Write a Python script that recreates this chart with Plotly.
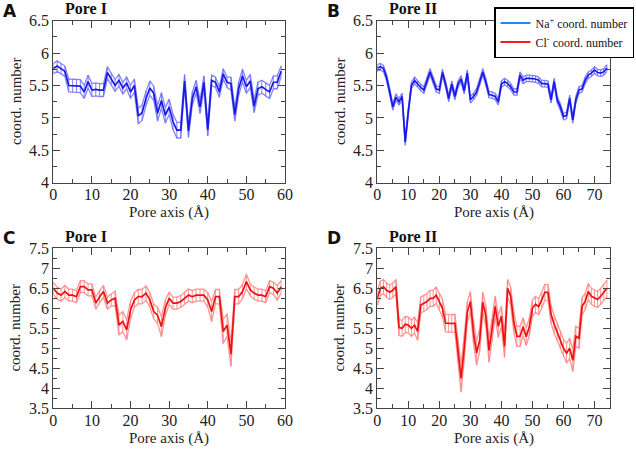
import numpy as np
import plotly.graph_objects as go

# ---------------- data ----------------
A_x = list(range(0, 60))
A_mean = [5.76, 5.80, 5.76, 5.72, 5.50, 5.50, 5.50, 5.49, 5.40, 5.56,
          5.43, 5.44, 5.43, 5.43, 5.70, 5.60, 5.50, 5.58, 5.46, 5.54,
          5.40, 5.50, 5.03, 5.08, 5.30, 5.46, 5.38, 5.07, 5.27, 5.04,
          5.17, 4.94, 4.81, 4.81, 5.57, 4.80, 5.30, 5.48, 5.17, 5.55,
          4.82, 5.58, 5.55, 5.40, 5.68, 5.55, 5.53, 5.05, 5.45, 5.65,
          5.48, 5.57, 5.18, 5.45, 5.48, 5.44, 5.40, 5.55, 5.55, 5.72]
A_err = [0.08, 0.08, 0.08, 0.08, 0.10, 0.10, 0.10, 0.10, 0.10, 0.10,
         0.10, 0.10, 0.10, 0.10, 0.09, 0.09, 0.09, 0.09, 0.09, 0.09,
         0.10, 0.10, 0.12, 0.12, 0.11, 0.11, 0.11, 0.12, 0.12, 0.12,
         0.12, 0.12, 0.12, 0.12, 0.10, 0.10, 0.10, 0.10, 0.10, 0.10,
         0.10, 0.08, 0.08, 0.08, 0.08, 0.08, 0.10, 0.10, 0.10, 0.10,
         0.10, 0.10, 0.10, 0.10, 0.10, 0.10, 0.10, 0.10, 0.10, 0.08]

B_x = list(range(0, 75))
B_mean = [5.77, 5.79, 5.76, 5.62, 5.40, 5.17, 5.32, 5.25, 5.33, 4.63,
          5.10, 5.50, 5.58, 5.52, 5.47, 5.43, 5.58, 5.71, 5.58, 5.45,
          5.43, 5.70, 5.52, 5.30, 5.52, 5.33, 5.52, 5.60, 5.42, 5.69,
          5.28, 5.33, 5.40, 5.55, 5.71, 5.55, 5.36, 5.35, 5.33, 5.25,
          5.52, 5.56, 5.53, 5.48, 5.40, 5.40, 5.66, 5.58, 5.61, 5.61,
          5.61, 5.60, 5.58, 5.53, 5.53, 5.52, 5.28, 5.56, 5.28, 5.17,
          5.02, 5.04, 5.30, 4.97, 5.28, 5.43, 5.45, 5.58, 5.66, 5.69,
          5.74, 5.70, 5.69, 5.71, 5.77]
B_err = [0.05] * 75

C_x = list(range(0, 60))
C_mean = [6.50, 6.38, 6.33, 6.42, 6.33, 6.33, 6.29, 6.54, 6.54, 6.46,
          6.46, 6.13, 6.29, 6.42, 6.13, 6.21, 6.25, 5.58, 5.67, 5.46,
          5.96, 6.21, 6.29, 6.29, 6.38, 6.21, 5.92, 5.83, 5.54, 6.00,
          6.25, 6.13, 6.13, 6.17, 6.25, 6.33, 6.29, 6.33, 6.33, 6.33,
          6.21, 5.92, 6.29, 6.29, 5.42, 5.58, 4.85, 6.29, 6.29, 6.42,
          6.67, 6.46, 6.38, 6.33, 6.33, 6.29, 6.54, 6.50, 6.38, 6.54]
C_err = [0.15, 0.15, 0.15, 0.15, 0.15, 0.15, 0.15, 0.15, 0.15, 0.15,
         0.15, 0.15, 0.15, 0.15, 0.15, 0.15, 0.18, 0.25, 0.25, 0.25,
         0.22, 0.18, 0.18, 0.18, 0.18, 0.18, 0.18, 0.20, 0.25, 0.20,
         0.15, 0.15, 0.15, 0.15, 0.15, 0.15, 0.15, 0.15, 0.15, 0.15,
         0.18, 0.25, 0.18, 0.18, 0.30, 0.28, 0.30, 0.18, 0.18, 0.18,
         0.18, 0.15, 0.15, 0.15, 0.15, 0.15, 0.15, 0.15, 0.18, 0.15]

D_x = list(range(0, 75))
D_mean = [6.25, 6.50, 6.54, 6.45, 6.40, 6.45, 6.54, 5.52, 5.50, 5.60,
          5.58, 5.50, 5.58, 5.42, 6.08, 6.13, 6.17, 6.25, 6.25, 6.33,
          6.17, 6.00, 5.63, 5.62, 5.62, 5.63, 4.95, 4.25, 5.00, 5.90,
          6.17, 5.40, 4.88, 5.20, 6.15, 5.80, 4.95, 5.45, 6.05, 5.55,
          5.80, 5.05, 6.50, 6.30, 5.65, 5.30, 5.30, 5.54, 5.29, 5.54,
          6.00, 6.10, 6.04, 6.21, 6.40, 6.40, 5.85, 5.60, 5.40, 5.21,
          5.00, 4.88, 5.00, 4.70, 5.30, 5.25, 6.05, 6.17, 6.42, 6.30,
          6.25, 6.22, 6.30, 6.40, 6.50]
D_err = [0.18, 0.18, 0.18, 0.18, 0.18, 0.18, 0.18, 0.20, 0.20, 0.20,
         0.20, 0.20, 0.20, 0.22, 0.20, 0.20, 0.20, 0.20, 0.20, 0.20,
         0.20, 0.22, 0.22, 0.22, 0.22, 0.22, 0.30, 0.35, 0.30, 0.25,
         0.25, 0.28, 0.30, 0.28, 0.25, 0.25, 0.30, 0.28, 0.25, 0.28,
         0.25, 0.28, 0.22, 0.22, 0.25, 0.25, 0.25, 0.22, 0.22, 0.22,
         0.20, 0.20, 0.20, 0.20, 0.20, 0.20, 0.22, 0.22, 0.22, 0.22,
         0.22, 0.25, 0.25, 0.28, 0.25, 0.25, 0.22, 0.20, 0.20, 0.20,
         0.20, 0.20, 0.20, 0.20, 0.20]

panel_letters = ["A", "B", "C", "D"]
panel_titles = ["Pore I", "Pore II", "Pore I", "Pore II"]
x_label = "Pore axis (Å)"
y_label = "coord. number"
legend_names = ["Na<sup>+</sup> coord. number", "Cl<sup>-</sup> coord. number"]

# ---------------- style ----------------
SERIF = "Liberation Serif, Times New Roman, serif"
blue_dark, blue_light = "#1a1ae6", "rgba(110,110,255,0.85)"
red_dark, red_light = "#f01010", "rgba(255,130,130,0.85)"

W, H = 636, 449
def px(x0, x1):
    return [x0 / W, x1 / W]
def py(top, bottom):
    return [1 - bottom / H, 1 - top / H]
def sx(x):
    return x / W
def sy(y):
    return 1 - y / H

panels = [
    dict(x=A_x, m=A_mean, e=A_err, dark=blue_dark, light=blue_light,
         box=(53.3, 285, 20.7, 182.7), xr=[0, 60], yr=[4, 6.5]),
    dict(x=B_x, m=B_mean, e=B_err, dark=blue_dark, light=blue_light,
         box=(377.3, 610, 20.7, 182.7), xr=[0, 75], yr=[4, 6.5]),
    dict(x=C_x, m=C_mean, e=C_err, dark=red_dark, light=red_light,
         box=(53.3, 285, 248.3, 408.3), xr=[0, 60], yr=[3.5, 7.5]),
    dict(x=D_x, m=D_mean, e=D_err, dark=red_dark, light=red_light,
         box=(377.3, 610, 248.3, 408.3), xr=[0, 75], yr=[3.5, 7.5]),
]

fig = go.Figure()
layout = dict(width=W, height=H, margin=dict(l=0, r=0, t=0, b=0, autoexpand=False),
              paper_bgcolor="white", plot_bgcolor="white", showlegend=True)
annotations = []

for i, p in enumerate(panels):
    k = "" if i == 0 else str(i + 1)
    xa, ya = "x" + k, "y" + k
    L, R, T, B = p["box"]
    m = np.array(p["m"]); e = np.array(p["e"])
    fig.add_trace(go.Scatter(x=p["x"], y=m + e, mode="lines", xaxis=xa, yaxis=ya,
                             line=dict(color=p["light"], width=1.3), showlegend=False, hoverinfo="skip"))
    fig.add_trace(go.Scatter(x=p["x"], y=m - e, mode="lines", xaxis=xa, yaxis=ya,
                             line=dict(color=p["light"], width=1.3), showlegend=False, hoverinfo="skip"))
    fig.add_trace(go.Scatter(x=p["x"], y=m, mode="lines", xaxis=xa, yaxis=ya,
                             line=dict(color=p["dark"], width=1.7),
                             error_y=dict(type="data", array=p["e"], visible=True,
                                          color=p["light"], thickness=1, width=0),
                             showlegend=False))
    axstyle = dict(showline=True, linecolor="#444", linewidth=1.2, mirror="ticks",
                   ticks="inside", ticklen=7, tickwidth=1.1, tickcolor="#444",
                   showgrid=False, zeroline=False, automargin=False,
                   tickfont=dict(family=SERIF, size=16, color="#222"))
    layout["xaxis" + k] = dict(axstyle, domain=px(L, R), range=p["xr"], dtick=10, tick0=0,
                               anchor=ya, ticklabelstandoff=-3,
                               minor=dict(ticks="inside", dtick=5, ticklen=4, tickwidth=1, tickcolor="#444"))
    layout["yaxis" + k] = dict(axstyle, domain=py(T, B), range=p["yr"], dtick=0.5, tick0=0,
                               anchor=xa,
                               minor=dict(ticks="inside", dtick=0.25, ticklen=4, tickwidth=1, tickcolor="#444"))
    # axis titles
    annotations.append(dict(text=x_label, x=sx((L + R) / 2), y=sy(B + 30),
                            xref="paper", yref="paper",
                            xanchor="center", yanchor="middle", showarrow=False,
                            font=dict(family=SERIF, size=15, color="#222")))
    annotations.append(dict(text=y_label, x=sx(L - 38), y=sy((T + B) / 2),
                            xref="paper", yref="paper",
                            xanchor="center", yanchor="middle", showarrow=False, textangle=-90,
                            font=dict(family=SERIF, size=15, color="#222")))
    # panel titles and letters
    annotations.append(dict(text="<b>" + panel_titles[i] + "</b>", x=sx(L + 10), y=sy(T - 12),
                            xref="paper", yref="paper",
                            xanchor="left", yanchor="middle", showarrow=False,
                            font=dict(family=SERIF, size=16, color="#111")))
    annotations.append(dict(text="<b>" + panel_letters[i] + "</b>", x=sx(L - 52), y=sy(T - 10),
                            xref="paper", yref="paper",
                            xanchor="left", yanchor="middle", showarrow=False,
                            font=dict(family="DejaVu Sans, sans-serif", size=17, color="#111")))

# legend entries
fig.add_trace(go.Scatter(x=[None], y=[None], mode="lines", xaxis="x2", yaxis="y2",
                         line=dict(color="#1a8cff", width=2), name=legend_names[0]))
fig.add_trace(go.Scatter(x=[None], y=[None], mode="lines", xaxis="x2", yaxis="y2",
                         line=dict(color="#ff1a1a", width=2), name=legend_names[1]))

layout["annotations"] = annotations
layout["legend"] = dict(x=sx(634), y=sy(7), xanchor="right", yanchor="top",
                        bgcolor="white", bordercolor="black", borderwidth=1.5,
                        font=dict(family=SERIF, size=12, color="#111"),
                        tracegroupgap=0, itemwidth=30)
fig.update_layout(**layout)
fig.write_html("out.html", config={"displayModeBar": False},
               post_script="document.body.style.margin='0';document.body.style.overflow='hidden';")
